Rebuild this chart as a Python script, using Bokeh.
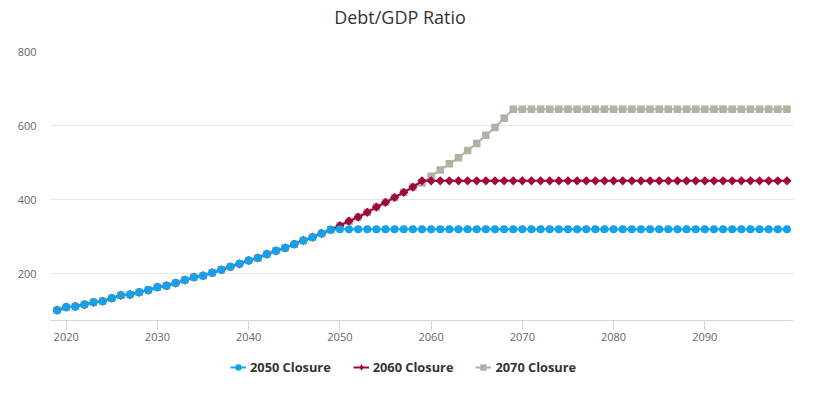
from bokeh.plotting import figure
from bokeh.models import FixedTicker, Legend, LegendItem, Range1d, Label
from bokeh.layouts import column
from bokeh.embed import file_html
from bokeh.resources import INLINE

years = list(range(2019, 2100))

shared = [102, 110, 112, 117, 123, 126, 134, 142, 144, 150,
          156, 164, 168, 175, 183, 191, 195, 203, 211, 219,
          227, 236, 243, 253, 262, 270, 280, 290, 299, 309, 319]

closure_2050 = shared + [320, 320, 320, 320, 320, 320, 320, 320, 320, 320,
                         320, 320, 320, 320, 320, 320, 320, 320, 320, 320,
                         320, 320, 320, 320, 320, 320, 320, 320, 320, 320,
                         320, 320, 320, 320, 320, 320, 320, 320, 320, 320,
                         320, 320, 320, 320, 320, 320, 320, 320, 320, 320]

closure_2060 = shared + [330, 342, 353, 366, 380, 393, 406, 420, 434, 451,
                         451, 451, 451, 451, 451, 451, 451, 451, 451, 451,
                         451, 451, 451, 451, 451, 451, 451, 451, 451, 451,
                         451, 451, 451, 451, 451, 451, 451, 451, 451, 451,
                         451, 451, 451, 451, 451, 451, 451, 451, 451, 451]

closure_2070 = shared + [330, 342, 353, 366, 380, 393, 406, 420, 434, 445,
                         463, 480, 497, 513, 533, 552, 574, 595, 620, 644,
                         644, 644, 644, 644, 644, 644, 644, 644, 644, 644,
                         644, 644, 644, 644, 644, 644, 644, 644, 644, 644,
                         644, 644, 644, 644, 644, 644, 644, 644, 644, 644]

chart_title = "Debt/GDP Ratio"
series_names = ["2050 Closure", "2060 Closure", "2070 Closure"]
x_ticks = [2020, 2030, 2040, 2050, 2060, 2070, 2080, 2090]
y_ticks = [200, 400, 600, 800]

FONT = "Open Sans"
c_blue = "#12a2ea"
c_red = "#a3053a"
c_gray = "#b2b2a2"
DIAMOND_ANGLE = 0.7853981634
NAN = float("nan")


def strip(height, border_bottom=0):
    f = figure(width=817, height=height, output_backend="svg", toolbar_location=None,
               x_axis_location=None, y_axis_location=None,
               x_range=Range1d(0, 1), y_range=Range1d(0, 1),
               min_border_left=50, min_border_right=24, min_border_top=0,
               min_border_bottom=border_bottom)
    f.outline_line_color = None
    f.xgrid.grid_line_color = None
    f.ygrid.grid_line_color = None
    f.border_fill_color = "white"
    return f


# title strip
tf = strip(32)
tf.add_layout(Label(x=0.4704, y=0.5, text=chart_title, text_align="center",
                    text_baseline="middle", text_font=FONT, text_font_size="18px",
                    text_color="#333333"))

# main chart
p = figure(width=817, height=318, output_backend="svg", toolbar_location=None,
           x_range=Range1d(2018.28, 2099.72), y_range=Range1d(74, 800),
           min_border_left=50, min_border_right=24, min_border_top=19,
           min_border_bottom=30)
p.outline_line_color = None
p.background_fill_color = "white"
p.border_fill_color = "white"

xa = p.xaxis[0]
xa.ticker = FixedTicker(ticks=x_ticks)
xa.axis_line_color = "#ccd6eb"
xa.major_tick_line_color = "#ccd6eb"
xa.major_tick_out = 10
xa.major_tick_in = 0
xa.minor_tick_line_color = None
xa.major_label_text_font = FONT
xa.major_label_text_font_size = "11px"
xa.major_label_text_color = "#666666"
xa.major_label_standoff = 2

ya = p.yaxis[0]
ya.ticker = FixedTicker(ticks=y_ticks)
ya.axis_line_color = None
ya.major_tick_line_color = None
ya.minor_tick_line_color = None
ya.major_label_text_font = FONT
ya.major_label_text_font_size = "11px"
ya.major_label_text_color = "#666666"
ya.major_label_standoff = 8

p.xgrid.grid_line_color = None
p.ygrid.grid_line_color = "#e6e6e6"
p.ygrid.ticker = FixedTicker(ticks=y_ticks)

# drawing order: gray under red under blue
p.line(years, closure_2070, line_color=c_gray, line_width=2)
p.scatter(years, closure_2070, marker="square", size=7.5, fill_color=c_gray, line_color=None)
p.line(years, closure_2060, line_color=c_red, line_width=2)
p.scatter(years, closure_2060, marker="square", angle=DIAMOND_ANGLE, size=6.5, fill_color=c_red, line_color=None)
p.line(years, closure_2050, line_color=c_blue, line_width=2)
p.scatter(years, closure_2050, marker="circle", size=8, fill_color=c_blue, line_color=None)

# legend strip below the chart (placeholder renderers hold no visible data)
lg = strip(44, border_bottom=10)
d1 = lg.line([NAN], [NAN], line_color=c_blue, line_width=2)
s1 = lg.scatter([NAN], [NAN], marker="circle", size=8, fill_color=c_blue, line_color=None)
d2 = lg.line([NAN], [NAN], line_color=c_red, line_width=2)
s2 = lg.scatter([NAN], [NAN], marker="diamond", size=10, fill_color=c_red, line_color=None)
d3 = lg.line([NAN], [NAN], line_color=c_gray, line_width=2)
s3 = lg.scatter([NAN], [NAN], marker="square", size=7.5, fill_color=c_gray, line_color=None)

legend = Legend(items=[
    LegendItem(label=series_names[0], renderers=[d1, s1]),
    LegendItem(label=series_names[1], renderers=[d2, s2]),
    LegendItem(label=series_names[2], renderers=[d3, s3]),
], orientation="horizontal", location=(180, 7))
legend.label_text_font = FONT
legend.label_text_font_size = "12.8px"
legend.label_text_font_style = "bold"
legend.label_text_color = "#333333"
legend.border_line_color = None
legend.background_fill_alpha = 0
legend.glyph_width = 16
legend.spacing = 22
legend.label_standoff = 4
legend.padding = 4
legend.margin = 0
lg.add_layout(legend)

layout = column(tf, p, lg, spacing=0)
open("out.html", "w").write(file_html(layout, INLINE))
